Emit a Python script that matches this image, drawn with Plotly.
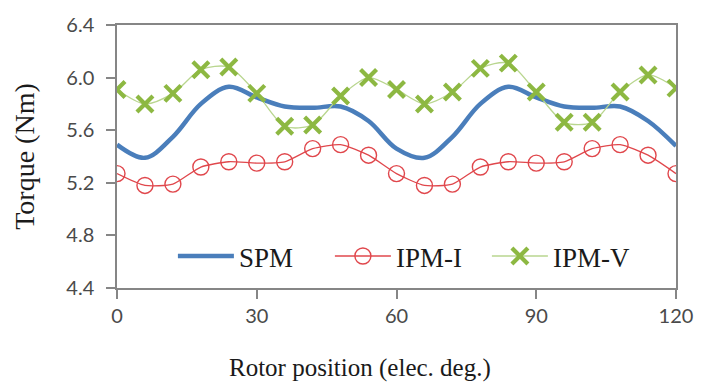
import plotly.graph_objects as go

# Rotor position (elec. deg.)
angle = [0, 6, 12, 18, 24, 30, 36, 42, 48, 54, 60, 66, 72, 78, 84, 90, 96, 102, 108, 114, 120]

spm = [5.49, 5.39, 5.55, 5.80, 5.93, 5.85, 5.78, 5.77, 5.78, 5.67, 5.46,
       5.39, 5.55, 5.80, 5.93, 5.85, 5.78, 5.77, 5.78, 5.67, 5.48]

ipm_i = [5.27, 5.18, 5.19, 5.32, 5.36, 5.35, 5.36, 5.46, 5.49, 5.41, 5.27,
         5.18, 5.19, 5.32, 5.36, 5.35, 5.36, 5.46, 5.49, 5.41, 5.27]

ipm_v = [5.91, 5.80, 5.88, 6.06, 6.08, 5.88, 5.63, 5.64, 5.86, 6.00, 5.91,
         5.80, 5.89, 6.07, 6.11, 5.89, 5.66, 5.66, 5.89, 6.02, 5.92]

x_ticks = [0, 30, 60, 90, 120]
y_ticks = [4.4, 4.8, 5.2, 5.6, 6.0, 6.4]

SERIF = "Liberation Serif, Times New Roman, serif"
SANS = "Lato, Liberation Sans, sans-serif"
AXIS_GRAY = "#868686"

fig = go.Figure()
fig.add_trace(go.Scatter(
    x=angle, y=spm, name="SPM", mode="lines",
    line=dict(color="#4A7EBB", width=4.5, shape="spline", smoothing=1.0),
))
fig.add_trace(go.Scatter(
    x=angle, y=ipm_i, name="IPM-I", mode="lines+markers",
    line=dict(color="#E0474C", width=1.3, shape="spline", smoothing=0.6),
    marker=dict(symbol="circle-open", size=16, color="#E0474C", line=dict(width=1.4, color="#E0474C")),
))
fig.add_trace(go.Scatter(
    x=angle, y=ipm_v, name="IPM-V", mode="lines+markers",
    line=dict(color="#B9D68F", width=1.3, shape="spline", smoothing=0.8),
    marker=dict(symbol="x-thin", size=16, color="#8DB842", line=dict(width=4.2, color="#8DB842")),
))

fig.update_layout(
    width=705, height=385,
    margin=dict(l=117, r=25, t=22, b=97),
    paper_bgcolor="white", plot_bgcolor="white",
    showlegend=True,
    legend=dict(
        orientation="h", x=0.1, y=0.12, xanchor="left", yanchor="middle",
        bgcolor="rgba(0,0,0,0)",
        font=dict(family=SERIF, size=27, color="#1a1a1a"),
        entrywidth=86, itemwidth=56, tracegroupgap=0,
    ),
    xaxis=dict(
        range=[0, 120], tickvals=x_ticks, ticktext=[str(v) for v in x_ticks],
        showgrid=False, zeroline=False,
        showline=True, linecolor=AXIS_GRAY, linewidth=1.5, mirror=True,
        ticks="outside", ticklen=9, tickcolor=AXIS_GRAY, tickwidth=1.5,
        tickfont=dict(family=SANS, size=20, color="#4a4a4a"),
    ),
    yaxis=dict(
        range=[4.4, 6.4], tickvals=y_ticks, ticktext=[f"{v:.1f}" for v in y_ticks],
        showgrid=False, zeroline=False,
        showline=True, linecolor=AXIS_GRAY, linewidth=1.5, mirror=True,
        ticks="outside", ticklen=9, tickcolor=AXIS_GRAY, tickwidth=1.5,
        tickfont=dict(family=SANS, size=20, color="#4a4a4a"),
        ticklabelstandoff=8,
        title=dict(text="Torque (Nm)", standoff=24,
                   font=dict(family=SERIF, size=28, color="#1a1a1a")),
    ),
    annotations=[dict(
        text="Rotor position (elec. deg.)", xref="paper", yref="paper",
        x=0.435, y=-0.305, xanchor="center", yanchor="middle", showarrow=False,
        font=dict(family=SERIF, size=25, color="#1a1a1a"),
    )],
)

fig.write_html("out.html")
